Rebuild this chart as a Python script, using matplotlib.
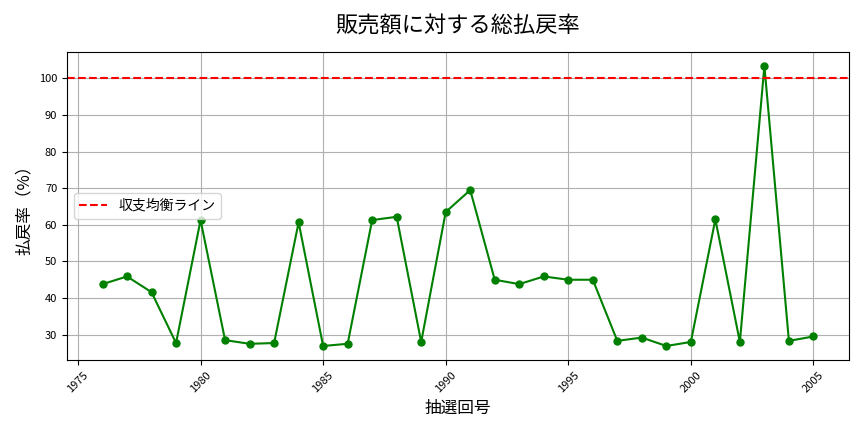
import matplotlib
matplotlib.use("Agg")
import matplotlib.pyplot as plt

plt.rcParams['font.family'] = ['Noto Sans CJK JP', 'DejaVu Sans']

years = list(range(1976, 2006))
payout_rate = [43.8, 45.9, 41.6, 27.7, 61.3, 28.5, 27.5, 27.7, 60.7, 26.9,
               27.5, 61.3, 62.2, 28.0, 63.5, 69.5, 45.0, 43.8, 45.9, 45.0,
               45.0, 28.3, 29.2, 26.9, 28.0, 61.5, 28.0, 103.4, 28.3, 29.5]
breakeven = 100

fig, ax = plt.subplots(figsize=(8.64, 4.32), dpi=100)
fig.subplots_adjust(left=0.0775, right=0.9826, top=0.8796, bottom=0.1667)

ax.plot(years, payout_rate, marker='o', color='green', linestyle='-', markersize=5)
ax.axhline(y=breakeven, color='red', linestyle='--', label='収支均衡ライン')

ax.set_title('販売額に対する総払戻率', fontsize=16, pad=14)
ax.set_xlabel('抽選回号', fontsize=12)
ax.set_ylabel('払戻率（%）', fontsize=12)
ax.tick_params(axis='both', labelsize=8)
plt.setp(ax.get_xticklabels(), rotation=45)
ax.grid(True)
ax.legend(loc='center left', fontsize=10)

fig.savefig('out.png')
